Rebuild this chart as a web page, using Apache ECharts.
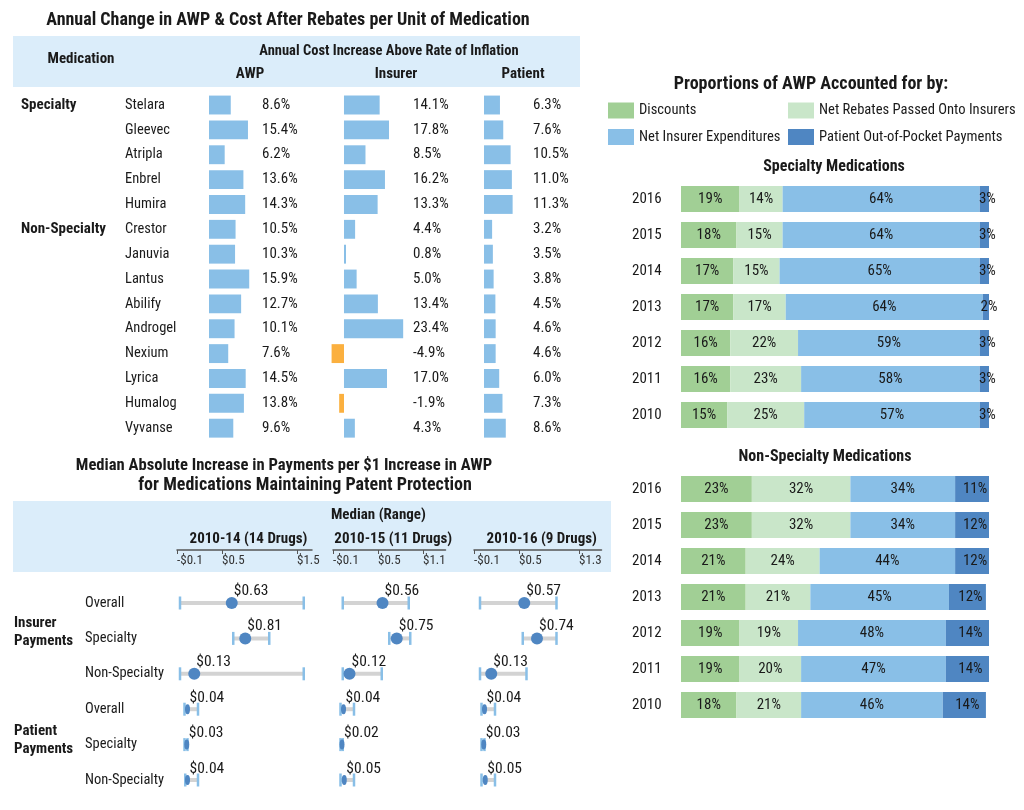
<!DOCTYPE html>
<html><head><meta charset="utf-8">
<script src="https://cdn.jsdelivr.net/npm/echarts@6/dist/echarts.min.js"></script>
<style>html,body{margin:0;padding:0;background:#fff}#c{width:1024px;height:810px}</style>
</head><body><div id="c"></div><script>
const FONT = "'Roboto Condensed','Liberation Sans Narrow',sans-serif";

// ---- Table: annual change above inflation ----
const medications = ['Stelara','Gleevec','Atripla','Enbrel','Humira','Crestor','Januvia','Lantus','Abilify','Androgel','Nexium','Lyrica','Humalog','Vyvanse'];
const awpChange = [8.6,15.4,6.2,13.6,14.3,10.5,10.3,15.9,12.7,10.1,7.6,14.5,13.8,9.6];
const insurerChange = [14.1,17.8,8.5,16.2,13.3,4.4,0.8,5.0,13.4,23.4,-4.9,17.0,-1.9,4.3];
const patientChange = [6.3,7.6,10.5,11.0,11.3,3.2,3.5,3.8,4.5,4.6,4.6,6.0,7.3,8.6];

// ---- Dot plots: median (range) ----
const dotRows = ['Overall','Specialty','Non-Specialty','Overall','Specialty','Non-Specialty'];
const periods = ['2010-14 (14 Drugs)','2010-15 (11 Drugs)','2010-16 (9 Drugs)'];
const median14 = [0.63,0.81,0.13,0.04,0.03,0.04];
const low14 = [-0.06,0.65,-0.06,0.0,0.0,0.01];
const high14 = [1.59,1.13,1.59,0.18,0.04,0.18];
const median15 = [0.56,0.75,0.12,0.04,0.02,0.05];
const low15 = [0.03,0.65,0.03,0.0,0.0,0.0];
const high15 = [0.91,0.93,0.55,0.18,0.03,0.18];
const median16 = [0.57,0.74,0.13,0.04,0.03,0.05];
const low16 = [-0.02,0.55,-0.02,0.0,0.0,0.0];
const high16 = [1.0,1.0,0.6,0.18,0.04,0.18];
const tickLabels14 = [-0.1,0.5,1.5];
const tickLabels15 = [-0.1,0.5,1.1];
const tickLabels16 = [-0.1,0.5,1.3];

// ---- Stacked proportions ----
const years = ['2016','2015','2014','2013','2012','2011','2010'];
const seriesNames = ['Discounts','Net Rebates Passed Onto Insurers','Net Insurer Expenditures','Patient Out-of-Pocket Payments'];
const specDiscounts = [19,18,17,17,16,16,15];
const specRebates = [14,15,15,17,22,23,25];
const specInsurer = [64,64,65,64,59,58,57];
const specPatient = [3,3,3,2,3,3,3];
const nonDiscounts = [23,23,21,21,19,19,18];
const nonRebates = [32,32,24,21,19,20,21];
const nonInsurer = [34,34,44,45,48,47,46];
const nonPatient = [11,12,12,12,14,14,14];

const BLUE = '#89bfe7', ORANGE = '#fbb03f', DARK = '#4f86c2', BAND = '#dbedfa', TXT = '#1a1a1a';
const segColors = ['#a1cf95','#c9e6c9','#89bfe7','#4f86c2'];

const chart = echarts.init(document.getElementById('c'), null, {renderer:'canvas'});

function tableItem(labelOffset){
  return function(params, api){
    const v = api.value(0), row = api.value(1);
    const p0 = api.coord([0,row]), p1 = api.coord([v,row]);
    const h = api.size([0,1])[1]*0.76;
    return {type:'group', children:[
      {type:'rect', shape:{x:Math.min(p0[0],p1[0]), y:p0[1]-h/2, width:Math.abs(p1[0]-p0[0]), height:h},
       style:{fill: v<0?ORANGE:BLUE}},
      {type:'text', x:p0[0]+labelOffset, y:p0[1],
       style:{text:v.toFixed(1)+'%', fill:TXT, fontSize:15, fontFamily:FONT, align:'left', verticalAlign:'middle'}}
    ]};
  };
}
function rangeItem(params, api){
  const lo = api.value(0), hi = api.value(1), row = api.value(2);
  const a = api.coord([lo,row]), b = api.coord([hi,row]);
  const cap = 13;
  return {type:'group', children:[
    {type:'line', shape:{x1:a[0],y1:a[1],x2:b[0],y2:b[1]}, style:{stroke:'#d3d3d3', lineWidth:4}},
    {type:'line', shape:{x1:a[0],y1:a[1]-cap/2,x2:a[0],y2:a[1]+cap/2}, style:{stroke:BLUE, lineWidth:2.5}},
    {type:'line', shape:{x1:b[0],y1:b[1]-cap/2,x2:b[0],y2:b[1]+cap/2}, style:{stroke:BLUE, lineWidth:2.5}}
  ]};
}

const grids = [
  {left:209, top:92.6, width:50.6, height:348},
  {left:328.8, top:92.6, width:75.9, height:348},
  {left:484, top:92.6, width:30.4, height:348},
  {left:177, top:585.3, width:135, height:212.4},
  {left:333, top:585.3, width:112.5, height:212.4},
  {left:474, top:585.3, width:127.5, height:212.4},
  {left:681, top:181, width:308, height:252},
  {left:681, top:471, width:308, height:252}
];
const hiddenX = (g,min,max)=>({gridIndex:g, type:'value', min, max, show:false});
const catY = (g,data,showLabel,margin,size)=>({gridIndex:g, type:'category', data, inverse:true,
  axisLine:{show:false}, axisTick:{show:false}, splitLine:{show:false},
  axisLabel:{show:showLabel, align:'left', margin, fontSize:size||15, color:TXT, fontFamily:FONT}});
const money = v => (v<0?'-$':'$')+Math.abs(v);
const dotX = (g,max,ticks,name)=>({gridIndex:g, type:'value', position:'top', offset:35.3, min:-0.1, max,
  axisLine:{show:true, lineStyle:{color:'#555', width:1.5}},
  axisTick:{show:true, inside:true, length:4, customValues:ticks, lineStyle:{color:'#555'}},
  axisLabel:{show:true, inside:true, margin:4, align:'left', customValues:ticks, formatter:money, fontSize:13, color:'#333', fontFamily:FONT},
  splitLine:{show:false},
  name, nameLocation:'middle', nameGap:3,
  nameTextStyle:{fontWeight:'bold', fontSize:15, color:TXT, fontFamily:FONT, padding:[0,0,0,8]}});

const xAxis = [
  hiddenX(0,0,20), hiddenX(1,-6,24), hiddenX(2,0,12),
  dotX(3,1.7,tickLabels14,periods[0]), dotX(4,1.4,tickLabels15,periods[1]), dotX(5,1.6,tickLabels16,periods[2]),
  hiddenX(6,0,100), hiddenX(7,0,100)
];
const yAxis = [
  catY(0,medications,true,84,14.5), catY(1,medications,false,0), catY(2,medications,false,0),
  catY(3,dotRows,true,92,14.5), catY(4,dotRows,false,0), catY(5,dotRows,false,0),
  catY(6,years,true,49,15), catY(7,years,true,49,15)
];

const series = [];
[[awpChange,0,53],[insurerChange,1,69],[patientChange,2,49]].forEach(([arr,g,off])=>{
  series.push({type:'custom', xAxisIndex:g, yAxisIndex:g, renderItem:tableItem(off),
    encode:{x:0,y:1}, data:arr.map((v,i)=>[v,i]), silent:true});
});
[[median14,low14,high14],[median15,low15,high15],[median16,low16,high16]].forEach(([m,lo,hi],k)=>{
  const g = 3+k;
  series.push({type:'custom', xAxisIndex:g, yAxisIndex:g, renderItem:rangeItem,
    encode:{x:[0,1], y:2}, data:lo.map((v,i)=>[v,hi[i],i]), silent:true, z:2});
  series.push({type:'scatter', xAxisIndex:g, yAxisIndex:g, z:3,
    data:m.map((v,i)=>[v,i]),
    symbolSize:(val)=> val[1]>=3 ? [5,10] : 12,
    itemStyle:{color:DARK, opacity:1},
    label:{show:true, position:'top', distance:0, align:'left', offset:[2,2],
      formatter:p=>'$'+p.value[0].toFixed(2), fontSize:15.5, color:TXT, fontFamily:FONT}});
});
[[specDiscounts,specRebates,specInsurer,specPatient,6],[nonDiscounts,nonRebates,nonInsurer,nonPatient,7]].forEach(arrs=>{
  const g = arrs[4];
  for(let s=0;s<4;s++){
    series.push({type:'bar', name:seriesNames[s], stack:'p'+g, xAxisIndex:g, yAxisIndex:g,
      data:arrs[s], barWidth:26, itemStyle:{color:segColors[s]},
      label:{show:true, position:'inside', formatter:'{c}%', fontSize:15, color:TXT, fontFamily:FONT, offset: s===3?[3,0]:[0,0]}});
  }
});

const t = (text,x,y,opt={}) => Object.assign({type:'text', x, y, z:10,
  style:Object.assign({text, fill:TXT, fontFamily:FONT, fontSize:15, fontWeight:'bold', align:'left', verticalAlign:'middle'}, opt)});

const graphic = [
  {type:'rect', shape:{x:13,y:36,width:567,height:51}, style:{fill:BAND}, z:-1},
  {type:'rect', shape:{x:13,y:501,width:598,height:71}, style:{fill:BAND}, z:-1},
  t('Annual Change in AWP & Cost After Rebates per Unit of Medication',288,20,{fontSize:18,align:'center'}),
  t('Medication',81,59,{align:'center'}),
  t('Annual Cost Increase Above Rate of Inflation',389,51,{fontSize:14.5,align:'center'}),
  t('AWP',250,74,{align:'center'}),
  t('Insurer',396,74,{align:'center'}),
  t('Patient',523,74,{align:'center'}),
  t('Specialty',21,105),
  t('Non-Specialty',21,229),
  t('Median Absolute Increase in Payments per $1 Increase in AWP',284,466,{fontSize:16.6,align:'center'}),
  t('for Medications Maintaining Patent Protection',305,485,{fontSize:18,align:'center'}),
  t('Median (Range)',331,515),
  t('Insurer',14,623), t('Payments',14,641),
  t('Patient',14,731), t('Payments',14,749),
  t('Proportions of AWP Accounted for by:',811,84,{fontSize:18,align:'center'}),
  t('Specialty Medications',834,167,{fontSize:16,align:'center'}),
  t('Non-Specialty Medications',825,457,{fontSize:16,align:'center'})
];

const legendBase = {orient:'vertical', itemGap:10.5, itemWidth:26, itemHeight:16, icon:'rect', padding:0,
  textStyle:{fontSize:14.6, color:TXT, fontFamily:FONT}, selectedMode:false};
chart.setOption({
  animation:false,
  textStyle:{fontFamily:FONT},
  grid:grids, xAxis, yAxis, series, graphic,
  legend:[
    Object.assign({left:608, top:102.5, data:[seriesNames[0],seriesNames[2]]}, legendBase),
    Object.assign({left:788, top:102.5, data:[seriesNames[1],seriesNames[3]]}, legendBase)
  ]
});
</script></body></html>
